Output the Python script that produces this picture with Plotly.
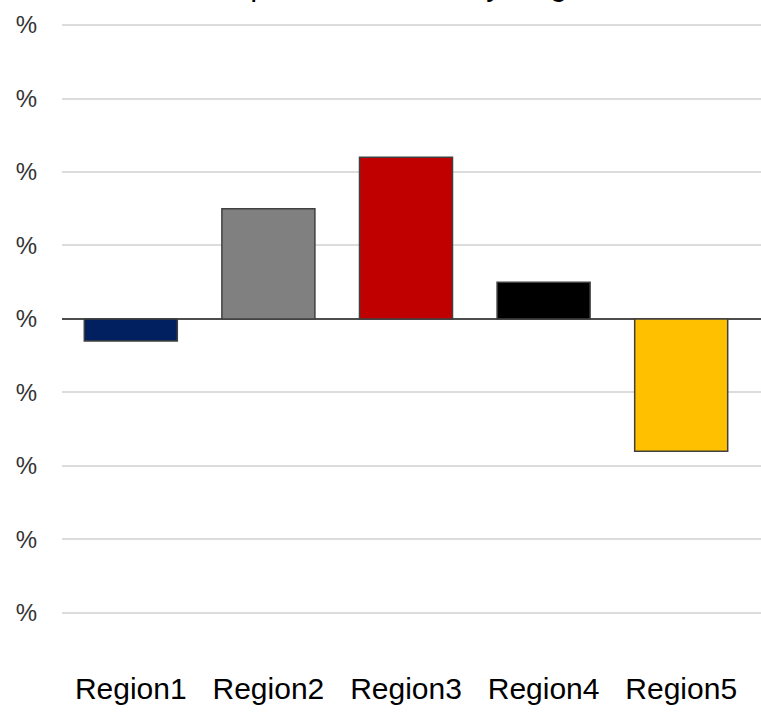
import plotly.graph_objects as go

regions = ["Region1", "Region2", "Region3", "Region4", "Region5"]
values = [-3, 15, 22, 5, -18]
colors = ["#002060", "#808080", "#C00000", "#000000", "#FFC000"]
y_tickvals = [-40, -30, -20, -10, 0, 10, 20, 30, 40]
y_ticktext = ["%"] * len(y_tickvals)
title_text = "Expected Returns by Region"

fig = go.Figure(
    go.Bar(
        x=regions,
        y=values,
        marker=dict(color=colors, line=dict(color="#404040", width=1.5)),
        width=0.676,
    )
)

fig.update_layout(
    width=761,
    height=713,
    margin=dict(l=62, r=0, t=3, b=45),
    paper_bgcolor="white",
    plot_bgcolor="white",
    showlegend=False,
    font=dict(family="Liberation Sans, Arial, sans-serif"),
)

fig.add_annotation(
    text=title_text,
    x=0.5,
    xref="paper",
    y=1,
    yref="paper",
    xanchor="center",
    yanchor="bottom",
    yshift=-1,
    showarrow=False,
    font=dict(family="Liberation Sans, Arial, sans-serif", size=31, color="#000000"),
)

fig.update_xaxes(
    range=[-0.5, 4.58],
    showgrid=False,
    showline=False,
    zeroline=False,
    ticks="",
    tickfont=dict(family="Liberation Sans, Arial, sans-serif", size=30, color="#000000"),
)

fig.update_yaxes(
    range=[-47.5, 43],
    tickmode="array",
    tickvals=y_tickvals,
    ticktext=y_ticktext,
    showgrid=True,
    gridcolor="#DCDCDC",
    gridwidth=2,
    zeroline=True,
    zerolinecolor="#4D4D4D",
    zerolinewidth=2,
    showline=False,
    ticks="",
    ticklabelstandoff=24,
    tickfont=dict(family="Liberation Sans Narrow, Arial Narrow, Liberation Sans, sans-serif", size=24, color="#333333"),
)

fig.write_html("out.html")
